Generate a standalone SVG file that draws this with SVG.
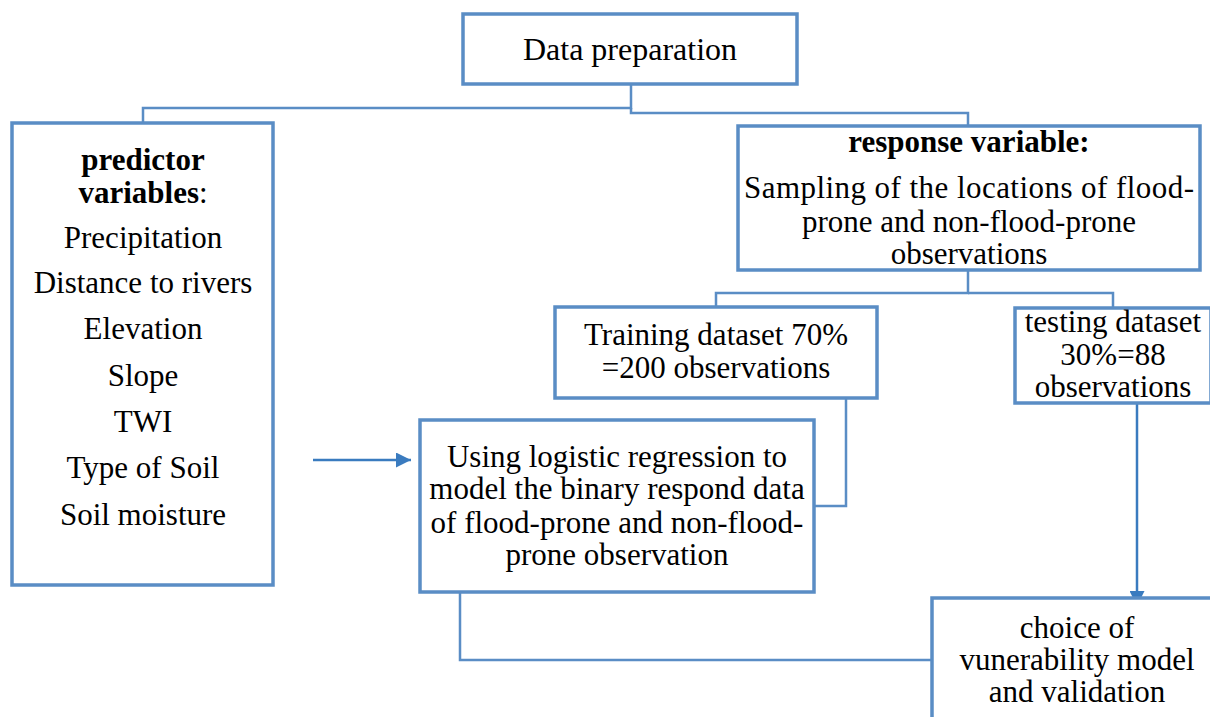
<svg xmlns="http://www.w3.org/2000/svg" width="1210" height="717" viewBox="0 0 1210 717">
<style>
.box{fill:#fff;stroke:#5a8dc5;stroke-width:3.5}
.con{fill:none;stroke:#5a8dc5;stroke-width:2.5}
.arr{fill:none;stroke:#3a7bbf;stroke-width:2.5}
text{font-family:"Liberation Serif","Times New Roman",serif;font-size:31px;fill:#000;text-anchor:middle}
.b{font-weight:bold}
</style>
<defs>
<marker id="ah" viewBox="0 0 10 10" refX="10" refY="5" markerWidth="6.5" markerHeight="6" orient="auto" markerUnits="strokeWidth">
<path d="M0,0 L10,5 L0,10 z" fill="#3a7bbf"/>
</marker>
</defs>
<rect width="1210" height="717" fill="#fff"/>
<g id="connectors">
<polyline class="con" points="631,84 631,108 143,108 143,122"/>
<polyline class="con" points="631,108 631,113 968,113 968,126"/>
<polyline class="con" points="968,270 968,293 716,293 716,307"/>
<polyline class="con" points="968,293 1113,293 1113,308"/>
<polyline class="con" points="846,398 846,506 814,506"/>
<polyline class="con" points="460,592 460,660 932,660"/>
<line class="arr" x1="313" y1="460" x2="411" y2="460" marker-end="url(#ah)"/>
<line class="arr" x1="1137" y1="403" x2="1137" y2="606" marker-end="url(#ah)"/>
</g>
<g id="data-preparation">
<rect class="box" x="463" y="14" width="334" height="70"/>
<text x="630" y="60" style="font-size:32px">Data preparation</text>
</g>
<g id="predictor-variables">
<rect class="box" x="12" y="123" width="261" height="462"/>
<text x="143" y="170" class="b">predictor</text>
<text x="143" y="203"><tspan class="b">variables</tspan>:</text>
<text x="143" y="248">Precipitation</text>
<text x="143" y="293">Distance to rivers</text>
<text x="143" y="339">Elevation</text>
<text x="143" y="386">Slope</text>
<text x="143" y="432">TWI</text>
<text x="143" y="478">Type of Soil</text>
<text x="143" y="525">Soil moisture</text>
</g>
<g id="response-variable">
<rect class="box" x="738" y="126" width="462" height="144"/>
<text x="969" y="152" class="b">response variable:</text>
<text x="969" y="198" textLength="450">Sampling of the locations of flood-</text>
<text x="969" y="232">prone and non-flood-prone</text>
<text x="969" y="264">observations</text>
</g>
<g id="training-dataset">
<rect class="box" x="555" y="307" width="322" height="91"/>
<text x="716" y="345">Training dataset 70%</text>
<text x="716" y="378">=200 observations</text>
</g>
<g id="testing-dataset">
<rect class="box" x="1015" y="308" width="196" height="95"/>
<text x="1113" y="332">testing dataset</text>
<text x="1113" y="365">30%=88</text>
<text x="1113" y="397">observations</text>
</g>
<g id="logistic-regression">
<rect class="box" x="420" y="420" width="394" height="172"/>
<text x="617" y="467">Using logistic regression to</text>
<text x="617" y="499">model the binary respond data</text>
<text x="617" y="533">of flood-prone and non-flood-</text>
<text x="617" y="565">prone observation</text>
</g>
<g id="choice-model">
<rect class="box" x="932" y="598" width="300" height="150"/>
<text x="1077" y="638">choice of</text>
<text x="1077" y="670">vunerability model</text>
<text x="1077" y="702">and validation</text>
</g>
</svg>
